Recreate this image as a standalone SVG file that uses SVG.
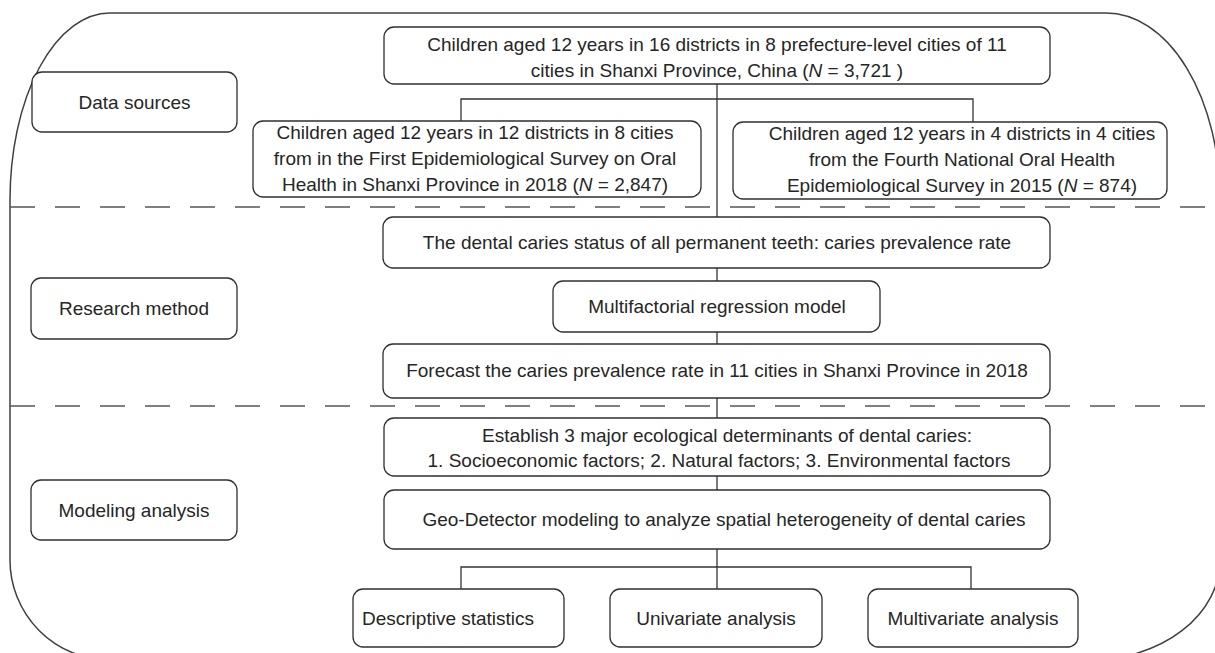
<svg xmlns="http://www.w3.org/2000/svg" width="1215" height="653" viewBox="0 0 1215 653">
<style>
.box{fill:#fff;stroke:#2f2f2f;stroke-width:1.3}
.t{font-family:"Liberation Sans",Arial,sans-serif;font-size:19px;fill:#262626;text-anchor:middle}
.tl{font-family:"Liberation Sans",Arial,sans-serif;font-size:19px;fill:#262626;text-anchor:start}
.c{fill:none;stroke:#333;stroke-width:1.3}
.d{fill:none;stroke:#555;stroke-width:1.5;stroke-dasharray:25 20}
</style>
<rect width="1215" height="653" fill="#fff"/>
<path id="frame" d="M10,200 A100,187 0 0 1 110,13 H1106 A114,187 0 0 1 1220,200 V560 A130,100 0 0 1 1090,660 H110 A100,100 0 0 1 10,560 Z" fill="none" stroke="#404040" stroke-width="1.5"/>
<g id="dividers">
<line class="d" x1="10" y1="207" x2="1215" y2="207"/>
<line class="d" x1="10" y1="406" x2="1215" y2="406"/>
</g>
<g id="connectors">
<line class="c" x1="717" y1="84" x2="717" y2="217"/>
<polyline class="c" points="461,121 461,99 973,99 973,122"/>
<line class="c" x1="717" y1="268" x2="717" y2="281"/>
<line class="c" x1="717" y1="332" x2="717" y2="344"/>
<line class="c" x1="717" y1="398" x2="717" y2="418"/>
<line class="c" x1="717" y1="476" x2="717" y2="490"/>
<line class="c" x1="717" y1="549" x2="717" y2="589"/>
<polyline class="c" points="461,589 461,567 971,567 971,589"/>
</g>
<g id="data-sources">
<rect class="box" x="32" y="72" width="205" height="60" rx="10"/>
<text class="t" x="134.5" y="109">Data sources</text>
</g>
<g id="research-method">
<rect class="box" x="31" y="278" width="206" height="61" rx="10"/>
<text class="t" x="134" y="315">Research method</text>
</g>
<g id="modeling-analysis">
<rect class="box" x="31" y="480" width="206" height="60" rx="10"/>
<text class="t" x="134" y="517">Modeling analysis</text>
</g>
<g id="all-children">
<rect class="box" x="384" y="27" width="666" height="57" rx="10"/>
<text class="t" x="717" y="51">Children aged 12 years in 16 districts in 8 prefecture-level cities of 11</text>
<text class="t" x="717" y="77">cities in Shanxi Province, China (<tspan font-style="italic">N</tspan> = 3,721 )</text>
</g>
<g id="first-survey">
<rect class="box" x="253" y="121" width="448" height="76" rx="10"/>
<text class="t" x="475" y="139">Children aged 12 years in 12 districts in 8 cities</text>
<text class="t" x="475" y="165">from in the First Epidemiological Survey on Oral</text>
<text class="t" x="475" y="191">Health in Shanxi Province in 2018 (<tspan font-style="italic">N</tspan> = 2,847)</text>
</g>
<g id="fourth-survey">
<rect class="box" x="733" y="122" width="434" height="77" rx="10"/>
<text class="t" x="962" y="140">Children aged 12 years in 4 districts in 4 cities</text>
<text class="t" x="962" y="166">from the Fourth National Oral Health</text>
<text class="t" x="962" y="192">Epidemiological Survey in 2015 (<tspan font-style="italic">N</tspan> = 874)</text>
</g>
<g id="caries-status">
<rect class="box" x="383" y="217" width="667" height="51" rx="10"/>
<text class="t" x="717" y="249">The dental caries status of all permanent teeth: caries prevalence rate</text>
</g>
<g id="regression">
<rect class="box" x="553" y="281" width="327" height="51" rx="10"/>
<text class="t" x="717" y="313">Multifactorial regression model</text>
</g>
<g id="forecast">
<rect class="box" x="383" y="344" width="667" height="54" rx="10"/>
<text class="t" x="717" y="377">Forecast the caries prevalence rate in 11 cities in Shanxi Province in 2018</text>
</g>
<g id="determinants">
<rect class="box" x="384" y="418" width="666" height="58" rx="10"/>
<text class="t" x="727" y="442">Establish 3 major ecological determinants of dental caries:</text>
<text class="t" x="719" y="467">1. Socioeconomic factors; 2. Natural factors; 3. Environmental factors</text>
</g>
<g id="geo-detector">
<rect class="box" x="384" y="490" width="666" height="59" rx="10"/>
<text class="t" x="724" y="526">Geo-Detector modeling to analyze spatial heterogeneity of dental caries</text>
</g>
<g id="descriptive">
<rect class="box" x="353" y="589" width="211" height="58" rx="10"/>
<text class="tl" x="362" y="625">Descriptive statistics</text>
</g>
<g id="univariate">
<rect class="box" x="610" y="589" width="212" height="58" rx="10"/>
<text class="t" x="716" y="625">Univariate analysis</text>
</g>
<g id="multivariate">
<rect class="box" x="868" y="589" width="210" height="58" rx="10"/>
<text class="t" x="973" y="625">Multivariate analysis</text>
</g>
</svg>
